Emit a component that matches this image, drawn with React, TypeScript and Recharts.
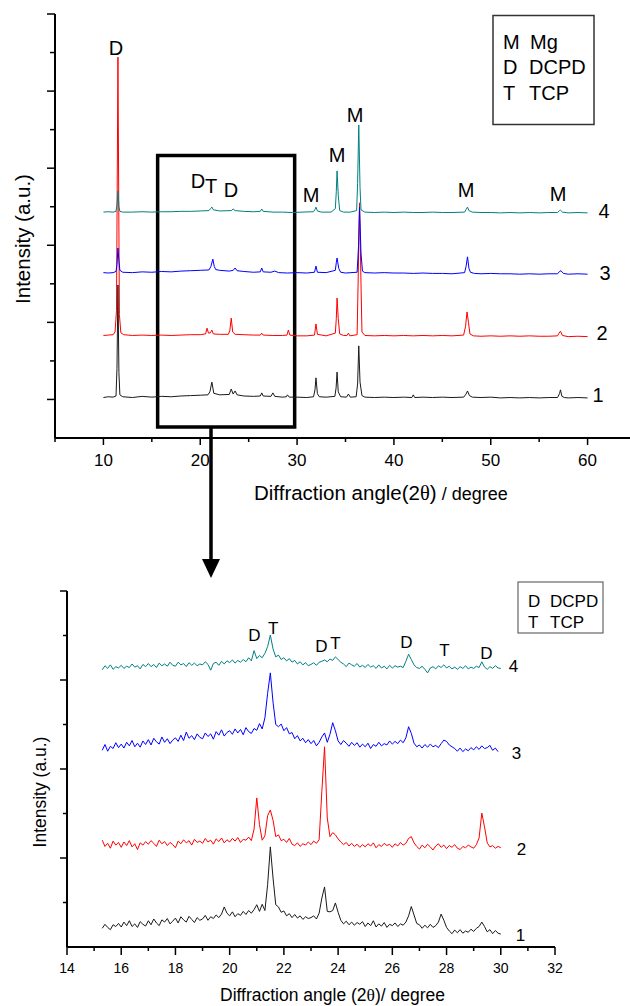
import { Line, LineChart, ReferenceArea, ReferenceDot, XAxis, YAxis } from "recharts";

const FONT = '"Liberation Sans", Arial, Helvetica, sans-serif';

// ---- upper panel: full scans 10-60 deg, stacked (angle, intensity a.u.)
const top1 = [
  [10, 10.5], [10.5, 10.7], [11, 10.6], [11.3, 10.9], [11.4, 18], [11.5, 39.7], [11.6, 17], [11.7, 11.2], [12, 10.7],
  [13, 10.5], [14, 10.8], [15, 10.6], [16, 10.8], [17, 10.7], [18, 10.9], [19, 11], [20, 11.1], [20.8, 11.2], [21, 12],
  [21.2, 14.5], [21.4, 11.6], [22, 11.2], [23, 11.3], [23.2, 12.7], [23.4, 11.4], [23.6, 12.2], [23.8, 11.2], [24.5, 10.9],
  [25.5, 10.8], [26.2, 10.9], [26.35, 11.7], [26.5, 10.9], [27.3, 10.8], [27.5, 11.7], [27.7, 10.8], [28.5, 10.6],
  [28.9, 10.7], [29, 11.2], [29.2, 10.6], [30, 10.6], [31, 10.5], [31.7, 10.7], [31.85, 12.5], [31.95, 15.6], [32.1, 11.5],
  [32.3, 10.7], [33, 10.6], [33.9, 10.8], [34.03, 13], [34.13, 17.1], [34.25, 12], [34.5, 10.7], [35.1, 10.6], [35.3, 11.4],
  [35.5, 10.6], [36.1, 10.7], [36.25, 14], [36.37, 23.9], [36.5, 14.5], [36.7, 11], [37, 10.6], [38, 10.5], [39, 10.6],
  [40, 10.5], [41, 10.6], [41.85, 10.5], [42, 11.2], [42.15, 10.5], [43, 10.6], [44, 10.5], [45, 10.6], [46, 10.5],
  [47.2, 10.6], [47.45, 11.4], [47.6, 12.2], [47.8, 11], [48.1, 10.6], [49, 10.5], [50, 10.6], [51, 10.4], [52, 10.5],
  [53, 10.4], [54, 10.5], [55, 10.4], [56, 10.5], [56.9, 10.5], [57.1, 11.5], [57.2, 12.5], [57.35, 10.8], [57.6, 10.5],
  [58, 10.4], [59, 10.5], [60, 10.4],
];
const top2 = [
  [10, 26.6], [10.5, 26.7], [11, 26.8], [11.2, 27.5], [11.35, 33], [11.5, 98.8], [11.65, 32], [11.8, 27.3], [12.1, 26.8],
  [13, 26.6], [14, 26.7], [15, 26.6], [16, 26.7], [17, 26.6], [18, 26.7], [19, 26.8], [20, 26.8], [20.55, 27], [20.7, 28.5],
  [20.85, 27.2], [21.05, 27.3], [21.2, 28], [21.35, 27], [22, 26.9], [22.9, 26.9], [23.05, 27.8], [23.2, 31.1], [23.35, 27.5],
  [23.6, 26.9], [24.5, 26.8], [25.5, 26.7], [26.2, 26.7], [26.35, 27.2], [26.5, 26.7], [27.5, 26.6], [28.5, 26.6],
  [28.95, 26.7], [29.1, 28], [29.25, 26.7], [30, 26.5], [31, 26.5], [31.8, 26.7], [31.95, 29.6], [32.1, 26.9], [33, 26.5],
  [33.95, 27.2], [34.05, 31], [34.13, 36.3], [34.25, 31], [34.4, 27], [34.8, 26.6], [35.15, 26.6], [35.3, 27.2],
  [35.45, 26.5], [36.2, 26.8], [36.3, 40], [36.45, 61], [36.6, 40], [36.7, 27.5], [37, 26.6], [38, 26.5], [39, 26.6],
  [40, 26.5], [41, 26.6], [42, 26.5], [43, 26.6], [44, 26.5], [45, 26.6], [46, 26.5], [47.2, 26.7], [47.4, 29],
  [47.55, 32.7], [47.7, 30], [47.85, 27], [48.2, 26.5], [49, 26.4], [50, 26.5], [51, 26.4], [52, 26.5], [53, 26.4],
  [54, 26.5], [55, 26.4], [56, 26.4], [56.9, 26.5], [57.05, 27.2], [57.2, 27.7], [57.4, 26.6], [58, 26.3], [59, 26.4],
  [60, 26.3],
];
const top3 = [
  [10, 42.9], [10.5, 42.8], [11, 42.9], [11.3, 43.2], [11.4, 45], [11.5, 49.3], [11.6, 46], [11.7, 43.5], [12, 43],
  [13, 42.9], [14, 43.1], [15, 43], [16, 43.2], [17, 43.1], [18, 43.3], [19, 43.4], [20, 43.5], [20.9, 43.6], [21.1, 44.5],
  [21.3, 46.4], [21.45, 44.5], [21.6, 43.7], [22, 43.5], [23, 43.3], [23.4, 43.5], [23.6, 44.1], [23.8, 43.4], [24.5, 43.2],
  [25.5, 43], [26.2, 43.1], [26.35, 44.1], [26.5, 43.1], [27.3, 43], [27.7, 43.3], [28.1, 42.9], [29, 42.8], [30, 42.9],
  [31, 42.8], [31.8, 43], [31.95, 44.6], [32.1, 43], [33, 42.9], [33.95, 43.5], [34.05, 45.5], [34.13, 46.7], [34.3, 44],
  [34.5, 43], [35, 42.8], [36.2, 43], [36.35, 50], [36.45, 59.9], [36.6, 48], [36.75, 43.3], [37, 42.9], [38, 42.8],
  [39, 42.9], [40, 42.8], [41, 42.8], [42, 42.7], [43, 42.8], [44, 42.7], [45, 42.7], [46, 42.6], [47.3, 42.9],
  [47.45, 44.5], [47.6, 47], [47.75, 44], [47.9, 43], [48.3, 42.7], [49, 42.6], [50, 42.7], [51, 42.6], [52, 42.6],
  [53, 42.5], [54, 42.6], [55, 42.5], [56, 42.6], [56.9, 42.6], [57.1, 43.2], [57.25, 43.4], [57.5, 42.7], [58, 42.5],
  [59, 42.6], [60, 42.5],
];
const top4 = [
  [10, 58.6], [10.5, 58.7], [11, 58.6], [11.3, 58.8], [11.4, 60.5], [11.5, 64.1], [11.6, 60], [11.7, 58.8], [12, 58.6],
  [13, 58.6], [14, 58.7], [15, 58.6], [16, 58.7], [17, 58.7], [18, 58.8], [19, 58.8], [20, 58.9], [20.9, 59], [21.05, 59.5],
  [21.2, 59.9], [21.35, 59.2], [22, 58.9], [23.2, 59], [23.4, 59.4], [23.6, 59], [24.5, 58.8], [25.5, 58.7], [26.2, 58.8],
  [26.35, 59.4], [26.5, 58.8], [27.5, 58.6], [28.5, 58.6], [29.5, 58.5], [30.5, 58.6], [31.7, 58.7], [31.85, 59.3],
  [31.95, 59.9], [32.1, 58.9], [32.5, 58.6], [33.5, 58.6], [33.95, 59.5], [34.05, 64], [34.13, 69.3], [34.25, 63],
  [34.4, 59], [34.8, 58.6], [35.5, 58.6], [36.15, 59], [36.25, 66], [36.37, 81.2], [36.5, 65], [36.6, 59.2], [37, 58.6],
  [38, 58.5], [39, 58.6], [40, 58.5], [41, 58.6], [42, 58.5], [43, 58.5], [44, 58.6], [45, 58.5], [46, 58.5], [47.3, 58.6],
  [47.45, 59.3], [47.6, 59.9], [47.75, 59], [48.1, 58.6], [49, 58.5], [50, 58.5], [51, 58.4], [52, 58.5], [53, 58.4],
  [54, 58.5], [55, 58.4], [56, 58.5], [56.9, 58.5], [57.1, 59], [57.2, 59.1], [57.4, 58.6], [58, 58.4], [59, 58.5],
  [60, 58.4],
];
const topXTicks = [5, 10, 15, 20, 25, 30, 35, 40, 45, 50, 55, 60, 65];
const topYTicks = [10, 20, 30, 40, 50, 60, 70, 80, 90, 100, 110];
const topPeakLabels = [
  { x: 11.3, y: 101.2, t: "D" }, { x: 19.77, y: 66.7, t: "D" }, { x: 21.11, y: 65.4, t: "T" }, { x: 23.18, y: 64.3, t: "D" },
  { x: 31.44, y: 63.0, t: "M" }, { x: 34.12, y: 73.4, t: "M" }, { x: 35.98, y: 83.8, t: "M" }, { x: 47.45, y: 64.3, t: "M" },
  { x: 56.95, y: 63.3, t: "M" },
  { x: 61.7, y: 58.9, t: "4" }, { x: 61.8, y: 42.8, t: "3" }, { x: 61.49, y: 27.2, t: "2" }, { x: 61.08, y: 11.2, t: "1" },
];

// ---- lower panel: zoom 15.3-30 deg
const lowX = [
  15.3, 15.4, 15.5, 15.6, 15.7, 15.8, 15.9,
  16.0, 16.1, 16.2, 16.3, 16.4, 16.5, 16.6, 16.7, 16.8, 16.9,
  17.0, 17.1, 17.2, 17.3, 17.4, 17.5, 17.6, 17.7, 17.8, 17.9,
  18.0, 18.1, 18.2, 18.3, 18.4, 18.5, 18.6, 18.7, 18.8, 18.9,
  19.0, 19.1, 19.2, 19.3, 19.4, 19.5, 19.6, 19.7, 19.8, 19.9,
  20.0, 20.1, 20.2, 20.3, 20.4, 20.5, 20.6, 20.7, 20.8, 20.9,
  21.0, 21.1, 21.2, 21.3, 21.4, 21.5, 21.6, 21.7, 21.8, 21.9,
  22.0, 22.1, 22.2, 22.3, 22.4, 22.5, 22.6, 22.7, 22.8, 22.9,
  23.0, 23.1, 23.2, 23.3, 23.4, 23.5, 23.6, 23.7, 23.8, 23.9,
  24.0, 24.1, 24.2, 24.3, 24.4, 24.5, 24.6, 24.7, 24.8, 24.9,
  25.0, 25.1, 25.2, 25.3, 25.4, 25.5, 25.6, 25.7, 25.8, 25.9,
  26.0, 26.1, 26.2, 26.3, 26.4, 26.5, 26.6, 26.7, 26.8, 26.9,
  27.0, 27.1, 27.2, 27.3, 27.4, 27.5, 27.6, 27.7, 27.8, 27.9,
  28.0, 28.1, 28.2, 28.3, 28.4, 28.5, 28.6, 28.7, 28.8, 28.9,
  29.0, 29.1, 29.2, 29.3, 29.4, 29.5, 29.6, 29.7, 29.8, 29.9,
  30.0,
];
const low1 = [
  4.2, 5.1, 4.4, 3.9, 5.0, 4.6, 5.3,
  4.5, 5.6, 4.8, 5.9, 4.6, 5.2, 4.4, 5.7, 5.1, 4.7,
  5.9, 5.0, 6.3, 5.4, 4.8, 6.1, 5.6, 6.4, 5.2, 5.8,
  6.5, 5.4, 6.8, 6.1, 5.6, 6.9, 6.2, 5.5, 6.6, 6.0,
  6.3, 7.1, 6.0, 6.8, 6.4, 7.2, 6.6, 7.4, 9.0, 7.6,
  7.0, 7.9, 6.8, 7.5, 7.1, 8.0, 7.3, 8.2, 7.6, 8.4,
  9.5, 8.0, 9.6, 8.2, 14.0, 22.5, 15.5, 9.5, 9.0, 7.8,
  8.1, 7.0, 7.5, 6.6, 7.3, 6.5, 7.0, 6.2, 6.8, 6.4,
  6.6, 7.0, 6.3, 7.6, 11.0, 13.5, 8.0, 7.9, 8.2, 9.9,
  7.8, 6.0, 5.2, 5.8, 5.0, 5.6, 4.9, 5.5, 5.1, 5.7,
  4.6, 5.4, 4.8, 5.9, 4.5, 5.2, 4.7, 5.5, 4.4, 5.1,
  4.8, 5.4, 4.6, 5.2, 4.9, 5.6, 7.0, 9.1, 7.2, 5.3,
  5.0, 4.2, 4.9, 4.3, 5.1, 4.4, 4.8, 5.6, 7.4, 6.0,
  4.4, 3.6, 3.0, 3.8, 3.2, 3.9, 3.1, 3.6, 3.3, 4.0,
  3.5, 4.2, 4.6, 5.6, 4.6, 3.4, 3.9, 3.0, 3.7, 3.1,
  2.9,
];
const low2 = [
  24.0, 22.6, 23.3, 22.2, 23.8, 22.9, 23.5,
  22.4, 23.6, 22.8, 23.9, 22.5, 23.2, 21.9, 23.4, 22.9, 23.7,
  23.1, 23.9, 23.3, 22.6, 24.0, 23.2, 23.7, 22.8, 23.5, 23.0,
  22.3, 23.8, 23.2, 24.1, 23.4, 23.9, 22.9, 24.2, 23.5, 23.8,
  23.3, 24.4, 23.6, 24.0, 23.1, 24.3, 23.7, 24.5, 23.4, 24.1,
  23.6, 24.4, 23.8, 24.6, 23.5, 24.2, 24.0, 24.7, 23.9, 26.5,
  33.5, 27.5, 24.0, 25.0, 29.5, 30.8, 28.5, 24.8, 25.2, 23.9,
  24.2, 23.5, 24.4, 23.1, 22.8, 23.4, 22.6, 23.2, 22.9, 23.6,
  23.0, 23.8, 23.3, 24.1, 35.0, 45.0, 29.0, 24.8, 25.7, 25.2,
  24.3, 23.6, 23.0, 23.5, 22.7, 23.3, 22.6, 23.1, 22.4, 23.0,
  22.5, 23.2, 22.7, 23.4, 22.3, 23.0, 22.6, 23.3, 22.8, 23.1,
  22.4, 23.2, 22.7, 23.5, 22.9, 23.3, 24.4, 24.8, 23.4, 22.6,
  22.0, 22.9, 22.3, 23.1, 22.5, 21.8, 22.7, 23.2, 22.4, 22.9,
  22.1, 22.8, 22.4, 23.0, 22.2, 21.9, 22.6, 22.3, 22.9, 22.5,
  22.2, 23.0, 24.5, 30.1, 27.0, 23.4, 22.5, 22.8, 22.2, 22.6,
  22.3,
];
const low3 = [
  44.2, 45.5, 44.0, 45.1, 44.6, 45.9, 44.8,
  45.6, 44.7, 46.0, 45.2, 46.4, 45.0, 45.8, 44.9, 46.3, 45.5,
  46.6, 45.4, 46.9, 46.1, 45.6, 47.2, 46.0, 46.8, 45.7, 46.5,
  47.0, 46.2, 47.6, 46.4, 48.3, 46.9, 47.5, 46.6, 47.9, 47.1,
  46.8, 48.1, 47.3, 47.9, 46.7, 48.4, 47.6, 48.8, 47.4, 48.2,
  48.6, 47.8, 49.0, 48.1, 48.9, 47.7, 49.3, 48.4, 48.0, 49.1,
  48.7, 50.2, 49.0, 51.5, 57.0, 61.6, 55.0, 50.0, 49.5, 50.1,
  48.6, 49.3, 47.9, 48.2, 46.8, 47.5, 46.3, 46.9, 45.9, 46.6,
  45.7, 46.4, 45.2, 46.0, 47.2, 48.1, 46.0, 47.8, 50.4, 48.6,
  46.3, 45.5, 46.4, 45.8, 45.1, 46.0, 45.3, 45.9, 44.9, 45.6,
  45.0, 45.8, 44.6, 45.5, 45.1, 46.0, 45.2, 45.7, 45.4, 46.3,
  45.6, 46.2, 45.7, 46.5, 45.9, 47.0, 49.5, 48.0, 45.8, 45.0,
  45.4, 44.7, 45.5, 44.9, 45.6, 45.0, 45.3, 44.8, 45.7, 46.5,
  46.2, 45.4, 45.0, 44.6, 44.0, 44.7, 43.9, 44.5, 44.1, 44.8,
  44.3, 45.0, 44.4, 45.2, 44.6, 44.8, 45.3, 44.2, 44.7, 43.9,
];
const low4 = [
  62.3, 63.2, 62.6, 63.4, 62.4, 63.0, 62.7,
  63.3, 62.6, 63.1, 62.8, 63.6, 62.9, 63.2, 62.5, 63.5, 63.0,
  63.7, 63.0, 63.5, 62.8, 63.8, 63.2, 63.6, 63.1, 64.0, 63.3,
  63.1, 64.0, 63.4, 63.7, 63.0, 63.9, 63.3, 63.8, 63.2, 63.6,
  63.4, 64.1, 63.5, 62.2, 63.7, 64.0, 63.3, 64.2, 63.6, 64.3,
  63.9, 64.5, 63.8, 64.4, 64.0, 64.6, 64.1, 65.0, 64.3, 66.6,
  64.8, 65.5, 65.0, 66.0, 67.5, 70.1, 67.0, 65.2, 65.6, 64.6,
  65.0, 64.3, 64.8, 64.0, 64.4, 63.6, 64.1, 63.4, 63.9, 63.2,
  63.5, 63.9, 63.3, 64.0, 64.2, 64.5, 64.1, 64.7, 64.4, 65.2,
  64.6, 64.0, 63.6, 63.0, 63.8, 63.4, 63.1, 63.7, 62.9, 63.3,
  62.8, 63.5, 62.9, 63.2, 62.6, 63.4, 62.7, 63.1, 62.5, 63.3,
  62.7, 63.2, 62.9, 63.1, 62.8, 64.2, 65.8, 64.6, 63.4, 62.8,
  62.6, 63.1, 62.4, 61.6, 62.7, 63.0, 62.5, 63.2, 62.8, 63.4,
  62.7, 63.1, 62.5, 62.9, 62.4, 63.0, 62.6, 63.2, 62.5, 62.9,
  62.6, 63.1, 62.8, 64.1, 62.9, 62.4, 63.0, 62.6, 63.2, 62.7,
  62.6,
];
const lowXTicks = [14, 15, 16, 17, 18, 19, 20, 21, 22, 23, 24, 25, 26, 27, 28, 29, 30, 31, 32];
const lowYTicks = [10, 20, 30, 40, 50, 60, 70, 80];
const lowPeakLabels = [
  { x: 20.91, y: 70.1, t: "D" }, { x: 21.61, y: 71.7, t: "T" }, { x: 23.38, y: 67.6, t: "D" }, { x: 23.9, y: 68.3, t: "T" },
  { x: 26.52, y: 68.5, t: "D" }, { x: 27.92, y: 66.7, t: "T" }, { x: 29.47, y: 66.1, t: "D" },
  { x: 30.47, y: 63.1, t: "4" }, { x: 30.58, y: 43.6, t: "3" }, { x: 30.76, y: 22.0, t: "2" }, { x: 30.73, y: 2.7, t: "1" },
];

const toXY = (a: number[][]) => a.map(([x, y]) => ({ x, y }));
const lowRows = lowX.map((x, i) => ({ x, s1: low1[i], s2: low2[i], s3: low3[i], s4: low4[i] }));

const C1 = "#1a1a1a";
const C2 = "#ff0000";
const C3 = "#0000ff";
const C4 = "#008080";

const TopXTick = ({ x, y, payload }: any) => {
  const major = payload.value % 10 === 0;
  return (
    <g>
      <line x1={x} x2={x} y1={y} y2={y + (major ? 7 : 4)} stroke="#000" strokeWidth={1.5} />
      {major && payload.value <= 60 && (
        <text x={x} y={y + 28} textAnchor="middle" fontSize={17} fill="#000">{payload.value}</text>
      )}
    </g>
  );
};
const TopYTick = ({ x, y, payload }: any) => {
  const major = payload.value % 20 === 10;
  return <line x1={x} x2={x - (major ? 8 : 5)} y1={y} y2={y} stroke="#000" strokeWidth={1.5} />;
};
const LowXTick = ({ x, y, payload }: any) => {
  const major = payload.value % 2 === 0;
  return (
    <g>
      <line x1={x} x2={x} y1={y} y2={y + (major ? 8 : 4)} stroke="#000" strokeWidth={1.5} />
      {major && <text x={x} y={y + 26} textAnchor="middle" fontSize={14} fill="#000">{payload.value}</text>}
    </g>
  );
};
const LowYTick = ({ x, y, payload }: any) => {
  const major = payload.value % 20 === 0;
  return <line x1={x} x2={x - (major ? 7 : 4)} y1={y} y2={y} stroke="#000" strokeWidth={1.5} />;
};

export default function App() {
  return (
    <div style={{ position: "absolute", left: 0, top: 0, width: 630, height: 1006, overflow: "hidden", background: "#fff", fontFamily: FONT }}>
      <div style={{ position: "absolute", left: 0, top: 0 }}>
        <LineChart width={640} height={470} margin={{ top: 14, right: 4, bottom: 0, left: 0 }}>
          <XAxis dataKey="x" type="number" domain={[5, 65]} ticks={topXTicks} interval={0} allowDataOverflow
            tickSize={0} tickMargin={0} tickLine={false} tick={<TopXTick />} axisLine={{ stroke: "#000", strokeWidth: 2 }} height={32} />
          <YAxis type="number" domain={[0, 110]} ticks={topYTicks} interval={0} allowDataOverflow
            tickSize={0} tickMargin={0} tickLine={false} tick={<TopYTick />} axisLine={{ stroke: "#000", strokeWidth: 2 }} width={55} />
          <Line data={toXY(top2)} dataKey="y" stroke={C2} strokeWidth={1} dot={false} activeDot={false} isAnimationActive={false} />
          <Line data={toXY(top1)} dataKey="y" stroke={C1} strokeWidth={1} dot={false} activeDot={false} isAnimationActive={false} />
          <Line data={toXY(top3)} dataKey="y" stroke={C3} strokeWidth={1} dot={false} activeDot={false} isAnimationActive={false} />
          <Line data={toXY(top4)} dataKey="y" stroke={C4} strokeWidth={1} dot={false} activeDot={false} isAnimationActive={false} />
          <ReferenceArea x1={15.6} x2={29.75} y1={2.85} y2={73.3} fill="none" stroke="#000" strokeWidth={3.5} fillOpacity={0} />
          {topPeakLabels.map((l, i) => (
            <ReferenceDot key={i} x={l.x} y={l.y} r={1} fill="none" stroke="none"
              label={{ value: l.t, position: "center", fontSize: 20, fill: "#000" }} />
          ))}
        </LineChart>
      </div>

      <div style={{ position: "absolute", left: 0, top: 560 }}>
        <LineChart width={630} height={417} data={lowRows} margin={{ top: 31, right: 75, bottom: 0, left: 0 }}>
          <XAxis dataKey="x" type="number" domain={[14, 32]} ticks={lowXTicks} interval={0} allowDataOverflow
            tickSize={0} tickMargin={0} tickLine={false} tick={<LowXTick />} axisLine={{ stroke: "#000", strokeWidth: 2 }} height={30} />
          <YAxis type="number" domain={[0, 80]} ticks={lowYTicks} interval={0} allowDataOverflow
            tickSize={0} tickMargin={0} tickLine={false} tick={<LowYTick />} axisLine={{ stroke: "#000", strokeWidth: 2 }} width={67} />
          <Line dataKey="s1" stroke={C1} strokeWidth={1} dot={false} activeDot={false} isAnimationActive={false} />
          <Line dataKey="s2" stroke={C2} strokeWidth={1} dot={false} activeDot={false} isAnimationActive={false} />
          <Line dataKey="s3" stroke={C3} strokeWidth={1} dot={false} activeDot={false} isAnimationActive={false} />
          <Line dataKey="s4" stroke={C4} strokeWidth={1} dot={false} activeDot={false} isAnimationActive={false} />
          {lowPeakLabels.map((l, i) => (
            <ReferenceDot key={i} x={l.x} y={l.y} r={1} fill="none" stroke="none"
              label={{ value: l.t, position: "center", fontSize: 17, fill: "#000" }} />
          ))}
        </LineChart>
      </div>

      <svg width={630} height={1006} style={{ position: "absolute", left: 0, top: 0, pointerEvents: "none" }}>
        {/* legends */}
        <rect x={493} y={15.5} width={101} height={109} fill="none" stroke="#333" strokeWidth={1.5} />
        <g fontSize={20} fill="#000">
          <text x={503} y={49}>M</text><text x={530} y={49}>Mg</text>
          <text x={503} y={74}>D</text><text x={529} y={74}>DCPD</text>
          <text x={503} y={100}>T</text><text x={529} y={100}>TCP</text>
        </g>
        <rect x={518} y={582} width={85} height={51} fill="none" stroke="#666" strokeWidth={1.2} />
        <g fontSize={17} fill="#000">
          <text x={528} y={607}>D</text><text x={550} y={607}>DCPD</text>
          <text x={528} y={628}>T</text><text x={550} y={628}>TCP</text>
        </g>
        {/* axis titles */}
        <text x={254} y={500} fill="#000">
          <tspan fontSize={20.5}>Diffraction angle(2</tspan>
          <tspan fontSize={20.5} fontFamily="'Liberation Serif', serif">θ</tspan>
          <tspan fontSize={20.5}>)</tspan>
          <tspan fontSize={18}> / degree</tspan>
        </text>
        <text transform="translate(22,239) rotate(-90)" textAnchor="middle" dominantBaseline="central" fontSize={20.5} fill="#000">Intensity (a.u.)</text>
        <text x={220} y={1001} fontSize={17.5} fill="#000">
          Diffraction angle (2<tspan fontFamily="'Liberation Serif', serif">θ</tspan>)/ degree
        </text>
        <text transform="translate(40,792) rotate(-90)" textAnchor="middle" dominantBaseline="central" fontSize={17.5} fill="#000">Intensity (a.u.)</text>
        {/* zoom arrow */}
        <line x1={211} y1={427} x2={211} y2={562} stroke="#000" strokeWidth={3.5} />
        <polygon points="202,559 220,559 211,578" fill="#000" />
      </svg>
    </div>
  );
}
